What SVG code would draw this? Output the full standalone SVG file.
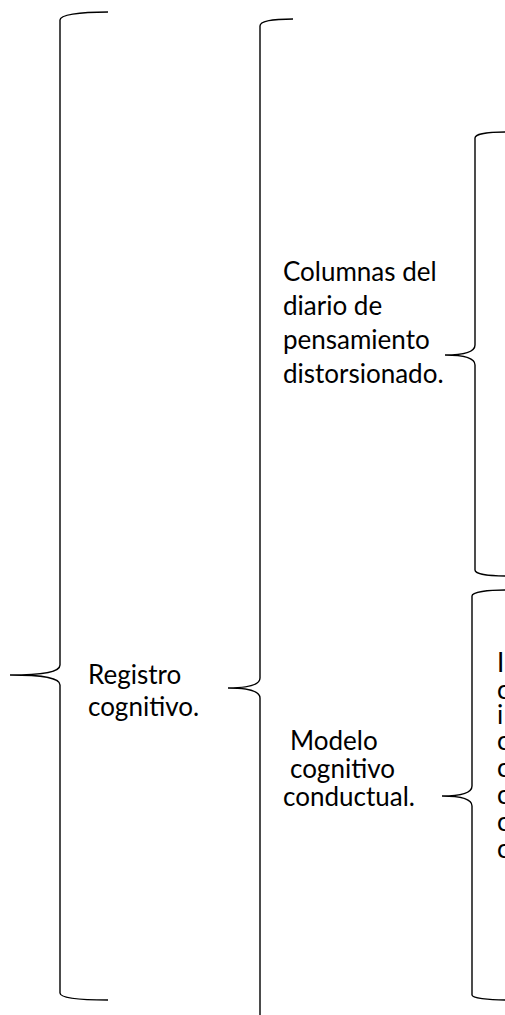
<svg xmlns="http://www.w3.org/2000/svg" width="505" height="1015" viewBox="0 0 505 1015">
<style>
.br{fill:none;stroke:#000;stroke-width:1.4}
.t{font-family:Lato,"Liberation Sans",sans-serif;font-size:26px;fill:#000}
</style>
<rect width="505" height="1015" fill="#fff"/>
<g id="connectors">
<path class="br" d="M108,12 C78,12 60,15 60,20 L60,665 C60,672 45,675 10,675 C45,675 60,678 60,685 L60,993 C60,998 78,1000 108,1000"/>
<path class="br" d="M293,19 C272,19 260,21 260,26 L260,678 C260,685 250,688 228,688 C250,688 260,691 260,698 L260,1016 C260,1019 272,1021 293,1021"/>
<path class="br" d="M505,132 C488,132 475,134 475,138 L475,345 C475,352 465,355 445,355 C465,355 475,358 475,365 L475,570 C475,574 488,576 505,576"/>
<path class="br" d="M505,590 C488,590 472,592 472,596 L472,786 C472,793 462,796 442,796 C462,796 472,799 472,806 L472,995 C472,998 488,1000 505,1000"/>
</g>
<g id="n1"><text class="t" x="88" y="684">Registro</text><text class="t" x="88" y="716">cognitivo.</text></g>
<g id="n2"><text class="t" x="283" y="281">Columnas del</text><text class="t" x="283" y="315">diario de</text><text class="t" x="283" y="349">pensamiento</text><text class="t" x="283" y="383">distorsionado.</text></g>
<g id="n3"><text class="t" x="290" y="750">Modelo</text><text class="t" x="290" y="778">cognitivo</text><text class="t" x="283" y="806">conductual.</text></g>
<g id="n4"><text class="t" x="497" y="672">I</text><text class="t" x="497" y="699">c</text><text class="t" x="497" y="724">i</text><text class="t" x="497" y="750">c</text><text class="t" x="497" y="777">c</text><text class="t" x="497" y="804">c</text><text class="t" x="497" y="831">c</text><text class="t" x="497" y="858">c</text></g>
</svg>
